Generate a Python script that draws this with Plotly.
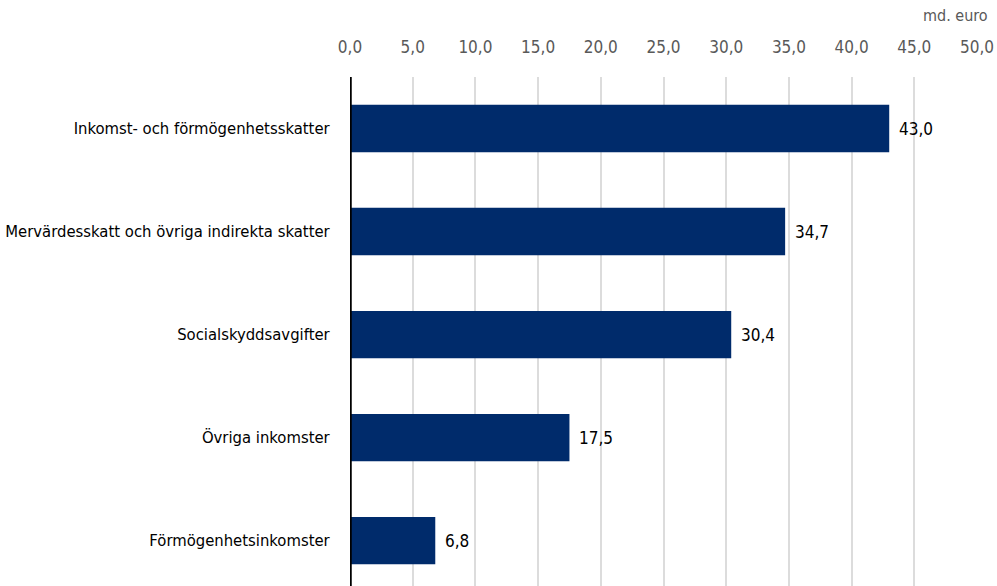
import plotly.graph_objects as go

categories = ["Inkomst- och förmögenhetsskatter",
              "Mervärdesskatt och övriga indirekta skatter",
              "Socialskyddsavgifter",
              "Övriga inkomster",
              "Förmögenhetsinkomster"]
values = [43.0, 34.7, 30.4, 17.5, 6.8]
tick_vals = [0, 5, 10, 15, 20, 25, 30, 35, 40, 45, 50]
tick_text = ["0,0", "5,0", "10,0", "15,0", "20,0", "25,0", "30,0", "35,0", "40,0", "45,0", "50,0"]
unit_label = "md. euro"

FONT = "Liberation Sans Narrow, DejaVu Sans Condensed, Arial Narrow, sans-serif"

fig = go.Figure(go.Bar(
    x=values, y=categories, orientation="h",
    marker=dict(color="#002b6b", line=dict(width=0)),
    hoverinfo="skip",
))

label_ann = [dict(x=v, y=c, xref="x", yref="y", text=f"{v:.1f}".replace(".", ","),
                  xanchor="left", yanchor="middle", xshift=8, showarrow=False,
                  font=dict(family=FONT, size=17, color="#000000"))
             for c, v in zip(categories, values)]

fig.update_layout(
    width=997, height=586,
    margin=dict(l=350, r=20, t=77, b=0),
    paper_bgcolor="white", plot_bgcolor="white",
    bargap=0.54, showlegend=False,
    font=dict(family=FONT, size=17, color="#000000"),
    xaxis=dict(range=[0, 50], side="top", tickvals=tick_vals, ticktext=tick_text,
               showgrid=True, gridcolor="#dcdcdc", gridwidth=1.5,
               zeroline=False, showline=False, ticks="outside", ticklen=16,
               tickcolor="rgba(0,0,0,0)",
               tickfont=dict(family=FONT, size=17, color="#595959")),
    yaxis=dict(categoryorder="array", categoryarray=categories,
               range=[4.44, -0.5], showgrid=False, zeroline=False,
               showline=False, ticks="outside", ticklen=16, tickcolor="rgba(0,0,0,0)",
               tickfont=dict(family=FONT, size=16.5, color="#000000")),
    shapes=[dict(type="line", xref="x", yref="paper", x0=0, x1=0, y0=0, y1=1,
                 line=dict(color="#000000", width=3.5), layer="above")],
    annotations=label_ann + [dict(text=unit_label, xref="paper", yref="paper", x=1.02, y=1.12,
                      xanchor="right", yanchor="middle", showarrow=False,
                      font=dict(family=FONT, size=16, color="#595959"))],
)

fig.write_html("out.html", config={"displayModeBar": False},
               post_script="document.body.style.margin='0';")
